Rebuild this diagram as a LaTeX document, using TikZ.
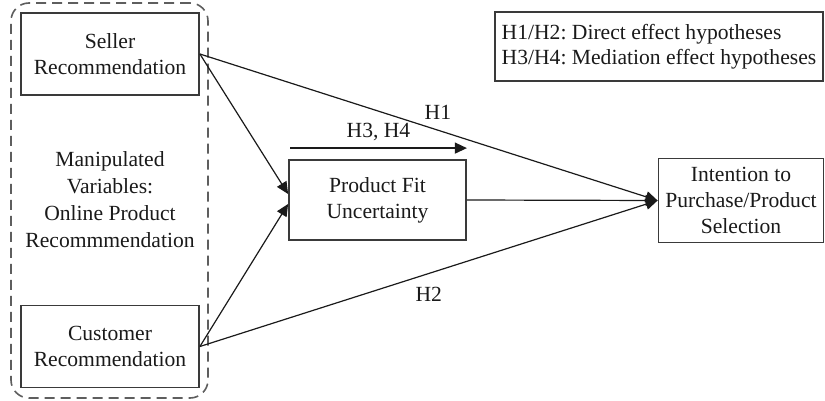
\documentclass[tikz,border=0pt]{standalone}
\usepackage{fontspec}
\setmainfont{Liberation Serif}
\usepackage{tikz}
\usetikzlibrary{arrows.meta,positioning}
\frenchspacing
\definecolor{ink}{HTML}{1A1A1A}
\definecolor{frame}{HTML}{3A3A3A}
\definecolor{dash}{HTML}{5E5E5E}
\tikzset{
  box/.style={draw=frame,line width=0.9pt,fill=white,align=center,text=ink,inner sep=2pt,font=\fontsize{10.8}{13}\selectfont},
  varbox/.style={box,minimum width=89pt,minimum height=41pt},
  grpbox/.style={draw=dash,line width=0.8pt,dash pattern=on 5pt off 3pt,rounded corners=9pt,minimum width=98.5pt,minimum height=197.5pt,inner sep=0pt},
  lbl/.style={font=\fontsize{10.8}{13.5}\selectfont,text=ink,align=center},
  legbox/.style={box,align=left,minimum width=164pt,minimum height=34.5pt,font=\fontsize{10.8}{12.5}\selectfont},
  arrow/.style={-{Triangle[length=6pt,width=5.5pt]},line width=0.6pt,color=ink},
  plain/.style={line width=0.6pt,color=ink},
}

\begin{document}
\begin{tikzpicture}[x=0.5pt,y=-0.5pt]
    \useasboundingbox (0,0) rectangle (825,401);
    % left group: the manipulated variables
    \node[grpbox] (grp) at (109.5,200.5) {};
    \node[varbox] (seller) at (110,54) {Seller\\Recommendation};
    \node[varbox] (cust) at (110,346.5) {Customer\\Recommendation};
    \node[lbl] (manip) at (110,200) {Manipulated\\Variables:\\Online Product\\Recommmendation};
    % mediator and outcome
    \node[box,minimum width=88.5pt,minimum height=40pt] (pfu) at (377.5,200) {Product Fit\\Uncertainty};
    \node[box,minimum width=82.5pt,minimum height=42pt] (itp) at (741,200.5) {Intention to\\Purchase/Product\\Selection};
    \node[legbox] (leg) at (659,46.5) {H1/H2: Direct effect hypotheses\\H3/H4: Mediation effect hypotheses};
    % paths
    \draw[arrow] (seller.east) -- ([yshift=3pt]pfu.west);
    \draw[arrow] (cust.east) -- ([yshift=-2pt]pfu.west);
    \draw[arrow] (seller.east) -- node[lbl,pos=0.52,above=1.5pt] (h1) {H1} (itp.west);
    \draw[arrow] (cust.east) -- node[lbl,pos=0.5,below=3pt] (h2) {H2} (itp.west);
    \draw[arrow] (pfu.east) -- (itp.west);
    \draw[arrow] ([xshift=1pt,yshift=5.5pt]pfu.north west) -- node[lbl,above=0pt] (h34) {H3, H4} ([yshift=5.5pt]pfu.north east);
\end{tikzpicture}
\end{document}
